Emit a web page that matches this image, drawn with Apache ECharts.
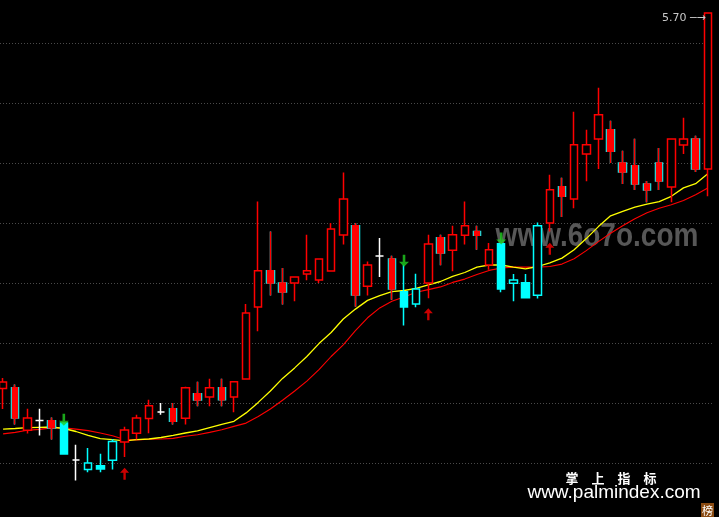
<!DOCTYPE html>
<html>
<head>
<meta charset="utf-8">
<script src="https://cdn.jsdelivr.net/npm/echarts@6/dist/echarts.min.js"></script>
<style>
html,body{margin:0;padding:0;background:#000;width:719px;height:517px;overflow:hidden;position:relative;}
#chart{position:absolute;left:-3px;top:-17px;width:717px;height:540px;}
</style>
</head>
<body>
<div id="chart"></div>
<script>
// ---- data ----
const opens = [4.448,4.451,4.309,4.342,4.341,4.333,4.210,4.178,4.191,4.209,
  4.270,4.299,4.348,4.370,4.381,4.349,4.431,4.420,4.451,4.420,
  4.480,4.720,4.841,4.800,4.800,4.830,4.810,4.840,4.960,4.991,
  4.789,4.890,4.880,4.771,4.730,4.800,4.951,4.909,4.959,4.972,
  4.860,4.931,4.799,4.801,4.759,5.000,5.121,5.080,5.230,5.280,
  5.311,5.200,5.191,5.130,5.200,5.120,5.260,5.280,5.180];
const closes = [4.470,4.350,4.350,4.342,4.317,4.230,4.210,4.200,4.180,4.272,
  4.310,4.350,4.391,4.370,4.339,4.451,4.410,4.451,4.411,4.471,
  4.700,4.841,4.800,4.770,4.820,4.841,4.880,4.980,5.080,4.760,
  4.860,4.890,4.780,4.720,4.780,4.930,4.900,4.961,4.991,4.959,
  4.911,4.780,4.810,4.751,4.991,5.111,5.089,5.261,5.261,5.361,
  5.239,5.170,5.130,5.110,5.140,5.280,5.280,5.180,5.700];
const lows = [4.380,4.328,4.298,4.292,4.278,4.228,4.142,4.169,4.169,4.178,
  4.220,4.278,4.299,4.361,4.328,4.328,4.389,4.389,4.389,4.369,
  4.478,4.639,4.758,4.728,4.739,4.809,4.800,4.840,4.928,4.721,
  4.758,4.820,4.744,4.658,4.719,4.749,4.859,4.839,4.928,4.911,
  4.844,4.769,4.739,4.751,4.748,4.972,5.020,5.049,5.139,5.180,
  5.200,5.130,5.110,5.069,5.110,5.069,5.230,5.170,5.089];
const highs = [4.483,4.462,4.381,4.381,4.352,4.334,4.261,4.250,4.231,4.280,
  4.321,4.361,4.411,4.400,4.400,4.454,4.471,4.481,4.481,4.471,
  4.730,5.072,4.972,4.850,4.820,4.961,4.880,5.000,5.168,5.000,
  4.872,4.950,4.891,4.861,4.831,4.961,4.961,4.991,5.072,4.991,
  4.933,4.931,4.830,4.830,5.002,5.161,5.151,5.371,5.311,5.451,
  5.341,5.241,5.281,5.140,5.250,5.280,5.351,5.291,5.700];
// indicator state per bar: 1 = bullish (red), 0 = bearish (cyan)
const trend = [1,1,1,1,1,0,0,0,0,0,
  1,1,1,1,1,1,1,1,1,1,
  1,1,1,1,1,1,1,1,1,1,
  1,1,1,0,0,1,1,1,1,1,
  1,0,0,0,0,1,1,1,1,1,
  1,1,1,1,1,1,1,1,1];
const maYellow = [4.313,4.315,4.318,4.319,4.320,4.315,4.305,4.292,4.281,4.278,
  4.274,4.278,4.280,4.285,4.292,4.300,4.307,4.318,4.329,4.339,
  4.367,4.402,4.440,4.482,4.517,4.555,4.598,4.635,4.680,4.713,
  4.742,4.758,4.771,4.775,4.782,4.794,4.805,4.822,4.835,4.853,
  4.860,4.860,4.853,4.847,4.855,4.867,4.883,4.911,4.948,4.988,
  5.024,5.039,5.053,5.063,5.071,5.089,5.117,5.131,5.164];
const maRed = [4.297,4.302,4.309,4.312,4.317,4.317,4.313,4.308,4.300,4.291,
  4.278,4.277,4.279,4.280,4.282,4.289,4.294,4.302,4.311,4.322,
  4.333,4.355,4.380,4.409,4.440,4.473,4.511,4.555,4.594,4.641,
  4.684,4.717,4.739,4.753,4.769,4.778,4.787,4.802,4.813,4.828,
  4.842,4.850,4.853,4.853,4.853,4.855,4.863,4.881,4.908,4.938,
  4.966,4.991,5.014,5.034,5.049,5.061,5.075,5.094,5.117];
const buyIdx = [10, 35, 45];
const buyPrice = [4.164, 4.696, 4.914];
const sellIdx = [5, 33, 41];
const sellPrice = [4.344, 4.874, 4.948];
const priceLabel = '5.70';
const categories = opens.map((_, i) => String(i + 1));

// ---- styles ----
const RED = '#ff0000', CYAN = '#00ffff', WHITE = '#ffffff', BLACK = '#000000';
const OX = 3, OY = 17; // chart div offset inside the page

function mainStyle(i) {
  const o = opens[i], c = closes[i];
  if (o === c) return {color: BLACK, color0: BLACK, borderColor: WHITE, borderColor0: WHITE};
  const col = trend[i] ? RED : CYAN;
  if (c > o) return {color: BLACK, color0: BLACK, borderColor: col, borderColor0: col};
  return {color: CYAN, color0: CYAN, borderColor: CYAN, borderColor0: CYAN};
}
const mainData = opens.map((o, i) => ({
  value: [o, closes[i], lows[i], highs[i]],
  itemStyle: mainStyle(i)
}));
const overlayData = opens.map((o, i) => {
  if (trend[i] && closes[i] < o) {
    return {value: [o, closes[i], lows[i], highs[i]],
      itemStyle: {color: RED, color0: RED, borderColor: RED, borderColor0: RED}};
  }
  return '-';
});

const upArrow = 'path://M5,0 L10,5 L6.3,5 L6.3,12 L3.7,12 L3.7,5 L0,5 Z';
const downArrow = 'path://M3.7,0 L6.3,0 L6.3,7 L10,7 L5,12 L0,7 L3.7,7 Z';

const chart = echarts.init(document.getElementById('chart'), null, {renderer: 'canvas'});
chart.setOption({
  backgroundColor: '#000000',
  animation: false,
  grid: {left: 0, right: 0.15, top: 0, bottom: 0},
  xAxis: {
    type: 'category', data: categories, boundaryGap: true,
    axisLine: {show: false}, axisTick: {show: false}, axisLabel: {show: false},
    splitLine: {show: false}
  },
  yAxis: {
    type: 'value', min: 4.0, max: 5.8, interval: 0.2,
    axisLine: {show: false}, axisTick: {show: false}, axisLabel: {show: false},
    splitLine: {show: true, lineStyle: {color: '#4a4a4a', width: 1, type: [1, 2]}}
  },
  graphic: [
    {type: 'text', x: 597 + OX, y: 237 + OY, scaleY: 1.2, z: 0, silent: true,
      style: {text: 'www.6o7o.com', fill: '#575757',
        font: 'bold 28px "Liberation Sans"', textAlign: 'center', textVerticalAlign: 'middle'}},
    {type: 'text', x: 611 + OX, y: 478 + OY, z: 100,
      style: {text: '掌　上　指　标', fill: '#ffffff',
        font: 'bold 13px "Noto Sans CJK SC"', textAlign: 'center', textVerticalAlign: 'middle'}},
    {type: 'text', x: 614 + OX, y: 493 + OY, z: 100,
      style: {text: 'www.palmindex.com', fill: '#ffffff',
        font: '19px "Liberation Sans"', textAlign: 'center', textVerticalAlign: 'middle'}},
    {type: 'rect', z: 100, shape: {x: 701 + OX, y: 503 + OY, width: 13, height: 14}, style: {fill: '#8a4b12'}},
    {type: 'text', x: 707.5 + OX, y: 510.5 + OY, z: 101,
      style: {text: '榜', fill: '#ffffff', font: '11px "Noto Sans CJK SC"',
        textAlign: 'center', textVerticalAlign: 'middle'}}
  ],
  series: [
    {type: 'line', data: maRed, symbol: 'none', smooth: false,
      lineStyle: {color: RED, width: 1.1}, z: 2},
    {type: 'line', data: maYellow, symbol: 'none', smooth: false,
      lineStyle: {color: '#ffff00', width: 1.3}, z: 2},
    {type: 'candlestick', data: mainData, barWidth: 8, z: 3,
      itemStyle: {borderWidth: 1.5},
      markPoint: {
        symbol: 'circle', symbolSize: 0,
        data: [{coord: [opens.length - 1, highs[highs.length - 1]], value: priceLabel}],
        label: {show: true, position: 'left', distance: 2, offset: [0, 5],
          formatter: priceLabel + ' ─→', color: '#c8c8c8', fontSize: 11,
          fontFamily: 'DejaVu Sans'}
      }},
    {type: 'candlestick', data: overlayData, barWidth: 6, z: 4,
      itemStyle: {borderWidth: 1.4}},
    {type: 'scatter', data: buyIdx.map((x, k) => [x, buyPrice[k]]),
      symbol: upArrow, symbolSize: [9, 12], itemStyle: {color: RED}, z: 6, silent: true},
    {type: 'scatter', data: sellIdx.map((x, k) => [x, sellPrice[k]]),
      symbol: downArrow, symbolSize: [10, 12], itemStyle: {color: '#20d020'}, z: 6, silent: true}
  ]
});
</script>
</body>
</html>
